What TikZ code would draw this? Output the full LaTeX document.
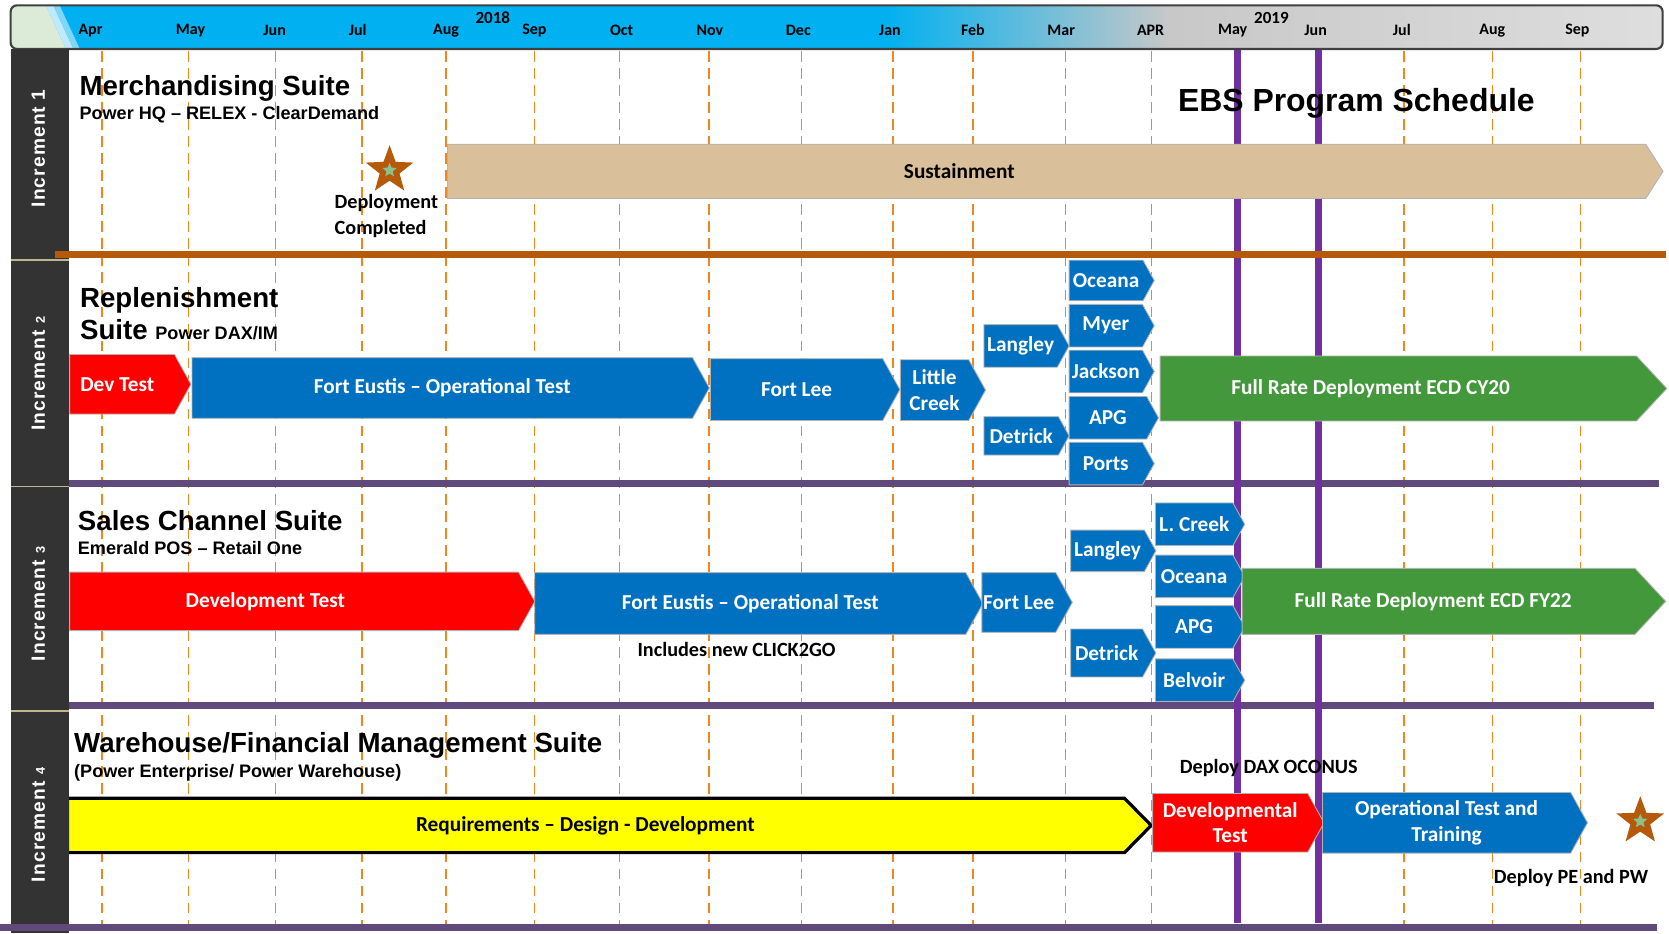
\documentclass[tikz,border=0pt]{standalone}
\usepackage{fontspec}
\setmainfont{Carlito}
\setsansfont{Liberation Sans}
\usetikzlibrary{
    shapes.symbols,
    shapes.geometric,
    positioning
}
\definecolor{ebsblue}{HTML}{0070C0}
\definecolor{ebsred}{HTML}{FF0000}
\definecolor{ebsgreen}{HTML}{43983B}
\definecolor{ebstan}{HTML}{D9C09B}
\definecolor{ebsyellow}{HTML}{FFFF00}
\definecolor{ebsbrown}{HTML}{B45A0A}
\definecolor{ebspurple}{HTML}{7030A0}
\definecolor{ebsrule}{HTML}{604A7B}
\definecolor{ebsdash}{HTML}{F0861E}
\definecolor{ebsside}{HTML}{333333}
\definecolor{sidegap}{HTML}{BFB58F}
\definecolor{hdrcyan}{HTML}{00B0F0}
\definecolor{hdrgrey}{HTML}{C8C8C8}
\definecolor{hdrgreen}{HTML}{DCEBD8}
\definecolor{stargreen}{HTML}{8CC08C}
\newcommand{\boxfont}{\fontsize{20}{24}\selectfont\bfseries}
\newcommand{\notefont}{\fontsize{19}{25}\selectfont\bfseries}
\newcommand{\monthfont}{\fontsize{15}{18}\selectfont\bfseries}
\newcommand{\yearfont}{\fontsize{16}{18}\selectfont\bfseries}
\newcommand{\suitefont}{\fontsize{26}{32}\selectfont\sffamily\bfseries}
\newcommand{\subfont}{\fontsize{17}{20}\selectfont\sffamily\bfseries}
\newcommand{\incfont}{\fontsize{18}{20}\selectfont\sffamily\bfseries\addfontfeatures{LetterSpace=6}}
\tikzset{
    phase/.style={signal, signal to=east, signal pointer angle=122, draw=black!30,
        line width=0.8pt, text=white, font=\boxfont, align=center, inner sep=0pt, anchor=west},
    blue phase/.style={phase, fill=ebsblue},
    red phase/.style={phase, fill=ebsred},
    green phase/.style={phase, fill=ebsgreen, signal pointer angle=94},
    site/.style={blue phase, minimum width=80pt, minimum height=40pt},
    notetext/.style={font=\notefont, align=left},
    monthlabel/.style={font=\monthfont},
    yearlabel/.style={font=\yearfont},
    suitetitle/.style={font=\suitefont, anchor=base west, inner sep=0pt},
    suitesub/.style={font=\subfont, anchor=base west, inner sep=0pt},
    incbar/.style={font=\incfont, text=white, rotate=90},
    monthline/.style={ebsdash, line width=1.3pt, dash pattern=on 10pt off 6pt},
    hrule/.style={ebsrule, line width=6.5pt},
    msstar/.style={star, star points=5, star point ratio=2.4, fill=ebsbrown, inner sep=0pt, minimum size=47pt},
    ministar/.style={star, star points=5, star point ratio=2.2, fill=stargreen, inner sep=0pt, minimum size=14pt},
}

\begin{document}
\begin{tikzpicture}[x=1pt,y=-1pt]
   \useasboundingbox (0,0) rectangle (1568,877);
   \fill[white] (0,0) rectangle (1568,877);
   % header
   \begin{scope}
      \clip[rounded corners=6pt] (10,5) rectangle (1562,46);
      \fill[hdrcyan] (10,5) rectangle (830,46);
      \shade[left color=hdrcyan, right color=hdrgrey] (830,5) rectangle (1100,46);
      \shade[left color=hdrgrey, right color=hdrgrey!60!white] (1100,5) rectangle (1562,46);
      \fill[hdrgreen] (10,5) -- (43,5) -- (62,46) -- (10,46) -- cycle;
      \fill[cyan!25] (43,5) -- (50,5) -- (69,46) -- (62,46) -- cycle;
      \fill[cyan!50] (50,5) -- (56,5) -- (75,46) -- (69,46) -- cycle;
   \end{scope}
   \draw[rounded corners=6pt, line width=2pt, black!75] (10,5) rectangle (1562,46);
   \foreach \m/\lx [count=\i] in {Apr/85, May/179, Jun/258, Jul/336, Aug/419, Sep/502,
       Oct/584, Nov/667, Dec/750, Jan/836, Feb/914, Mar/997, APR/1081, May/1158,
       Jun/1236, Jul/1317, Aug/1402, Sep/1482}
      \node[monthlabel] (mon_\i) at (\lx,28.5) {\m};
   \node[yearlabel] (year_1) at (463,17) {2018};
   \node[yearlabel] (year_2) at (1194.5,17) {2019};
   \foreach \gx in {96,177,259,340,419,502,582,666,753,839,914,1001,1082,1319,1402,1485}
      \draw[monthline] (\gx,48) -- (\gx,877);
   \draw[hrule] (65,454) -- (1559,454);
   \draw[hrule] (65,663) -- (1554,663);
   \draw[ebspurple, line width=6.5pt] (1163,47) -- (1163,867);
   \draw[ebspurple, line width=6.5pt] (1239,47) -- (1239,867);

   % increment 1
   \node[suitetitle] (merch) at (74.5,89.3) {Merchandising Suite};
   \node[suitesub] (merch_sub) at (74.5,112) {Power HQ – RELEX - ClearDemand};
   \node[font=\fontsize{30}{32}\selectfont\sffamily\bfseries, anchor=base west, inner sep=0pt] (ebs) at (1106.5,105) {EBS Program Schedule};
   \node[phase, fill=ebstan, text=black, signal pointer angle=115, minimum width=1142pt, minimum height=51pt] (sustain) at (420,161) {Sustainment\hspace*{164pt}};
   \node[msstar] (star_1) at (366,160) {};
   \node[ministar] at (star_1) {};
   \node[notetext] (deployed) at (363,203) {Deployment\\Completed};

   % increment 2
   \node[suitetitle] (repl) at (75,288.7) {Replenishment};
   \node[suitetitle] (repl_suite) at (75,319.4) {Suite {\subfont Power DAX/IM}};
   \node[red phase, minimum width=114pt, minimum height=56pt] (dev_2) at (65,361) {Dev Test\hspace*{9pt}};
   \node[blue phase, minimum width=486pt, minimum height=57pt] (eustis_2) at (180,364.5) {Fort Eustis – Operational Test};
   \node[blue phase, minimum width=178pt, minimum height=58pt] (lee_2) at (667,366) {Fort Lee};
   \node[blue phase, minimum width=80pt, minimum height=57pt] (creek_2) at (845.5,366.5) {Little\\Creek};
   \node[site] (langley_2) at (924,325) {Langley};
   \node[site, minimum height=36pt] (detrick_2) at (924,409.5) {Detrick};
   \node[site, minimum height=38pt] (oceana_2) at (1004,263.5) {Oceana};
   \node[site] (myer_2) at (1004,306) {Myer};
   \node[site] (jackson_2) at (1004,349) {Jackson};
   \node[site, minimum width=84pt] (apg_2) at (1004,392.5) {APG};
   \node[site] (ports_2) at (1004,435.5) {Ports};
   \node[green phase, minimum width=476pt, minimum height=61pt] (full_2) at (1089.5,365) {Full Rate Deployment ECD CY20\hspace*{52pt}};

   % increment 3
   \node[suitetitle] (sales) at (73,498) {Sales Channel Suite};
   \node[suitesub] (sales_sub) at (73,521) {Emerald POS – Retail One};
   \node[red phase, minimum width=437pt, minimum height=55pt] (dev_3) at (65,565) {Development Test\hspace*{54pt}};
   \node[blue phase, minimum width=421pt, minimum height=58pt] (eustis_3) at (502,567) {Fort Eustis – Operational Test};
   \node[notetext] (click) at (692,610) {Includes new CLICK2GO};
   \node[blue phase, minimum width=85pt, minimum height=56pt] (lee_3) at (922,566) {Fort Lee};
   \node[site, minimum height=39pt] (langley_3) at (1005.5,517.5) {Langley};
   \node[site, minimum height=45pt] (detrick_3) at (1005.5,613.5) {Detrick};
   \node[site, minimum width=84pt] (lcreek_3) at (1085,492.5) {L. Creek};
   \node[site, minimum width=84pt] (oceana_3) at (1085,541.5) {Oceana};
   \node[site, minimum width=84pt] (apg_3) at (1085,589) {APG};
   \node[site, minimum width=84pt] (belvoir_3) at (1085,639) {Belvoir};
   \node[green phase, minimum width=398pt, minimum height=62pt] (full_3) at (1166.5,565) {Full Rate Deployment ECD FY22\hspace*{10pt}};

   % increment 4
   \node[suitetitle] (wh) at (69.5,707) {Warehouse/Financial Management Suite};
   \node[suitesub] (wh_sub) at (69.5,730) {(Power Enterprise/ Power Warehouse)};
   \node[phase, fill=ebsyellow, text=black, draw=black, line width=3pt, signal pointer angle=91, minimum width=1018pt, minimum height=51pt] (req) at (62,775.5) {Requirements – Design - Development\hspace*{20pt}};
   \node[notetext] (oconus) at (1192,721.5) {Deploy DAX OCONUS};
   \node[red phase, minimum width=161pt, minimum height=55pt] (dev_4) at (1082.5,773) {Developmental\\Test};
   \node[blue phase, minimum width=249pt, minimum height=57pt] (optest_4) at (1242,773) {Operational Test and\\Training};
   \node[msstar] (star_2) at (1541,771.5) {};
   \node[ministar] at (star_2) {};
   \node[notetext] (pe_pw) at (1476,825) {Deploy PE and PW};

   % side bar
   \fill[ebsside] (10,46) rectangle (65,877);
   \foreach \y in {244,457,668}
      \draw[sidegap, line width=1.5pt] (10,\y) -- (65,\y);
   \draw[ebsbrown, line width=6.5pt] (52,239.5) -- (1565,239.5);
   \draw[hrule] (0,871) -- (1557,871);
   \node[incbar] (inc_1) at (36,139.5) {Increment 1};
   \node[incbar] (inc_2) at (36,351) {Increment {\fontsize{12}{12}\selectfont 2}};
   \node[incbar] (inc_3) at (36,567.5) {Increment {\fontsize{12}{12}\selectfont 3}};
   \node[incbar] (inc_4) at (36,775) {Increment {\fontsize{12}{12}\selectfont 4}};
\end{tikzpicture}
\end{document}
